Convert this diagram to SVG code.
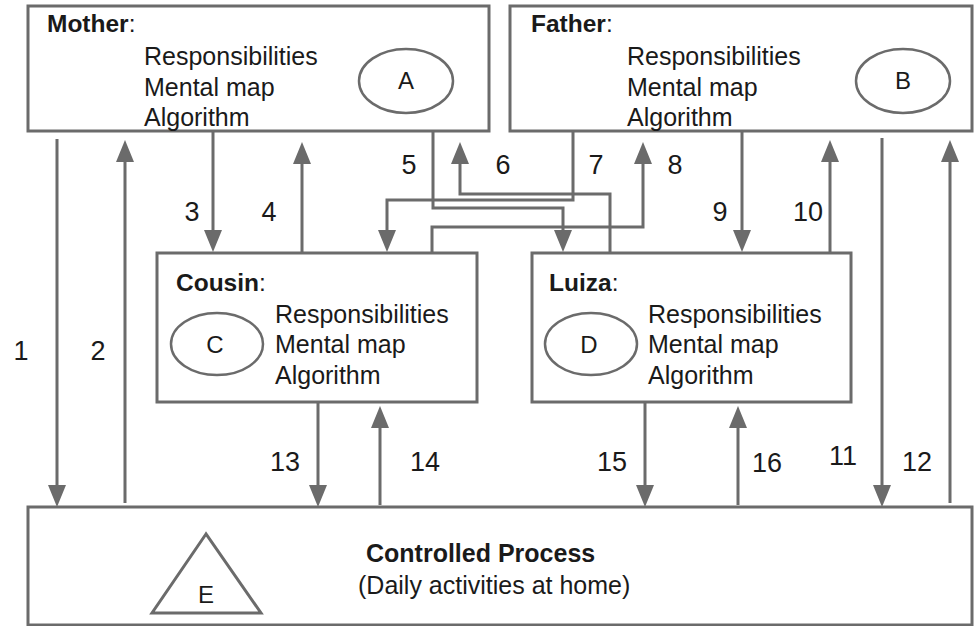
<svg xmlns="http://www.w3.org/2000/svg" width="980" height="626" viewBox="0 0 980 626">
<defs>
<style>
.box{fill:#fff;stroke:#6b6b6b;stroke-width:3}
.ell{fill:none;stroke:#6b6b6b;stroke-width:2.5}
.t{font-family:"Liberation Sans",Arial,sans-serif;fill:#1a1a1a}
.ti{font-size:24.5px;font-weight:bold}
.co{font-weight:normal}
.li{font-size:25px}
.lt{font-size:24px;text-anchor:middle}
.num{font-size:27px;text-anchor:middle}
.c{fill:none;stroke:#6b6b6b;stroke-width:3;marker-end:url(#ah)}
</style>
<marker id="ah" markerUnits="userSpaceOnUse" viewBox="0 0 22 18" markerWidth="22" markerHeight="18" refX="12" refY="9" orient="auto">
<path d="M0,0 L22,9 L0,18 z" fill="#6b6b6b"/>
</marker>
</defs>
<rect width="980" height="626" fill="#fff"/>

<g id="mother">
<rect class="box" x="28" y="6" width="461" height="125"/>
<text class="t ti" x="47" y="32">Mother<tspan class="co">:</tspan></text>
<text class="t li" x="144" y="65">Responsibilities</text>
<text class="t li" x="144" y="96">Mental map</text>
<text class="t li" x="144" y="126">Algorithm</text>
<ellipse class="ell" cx="406" cy="81" rx="47" ry="32"/>
<text class="t lt" x="406" y="89">A</text>
</g>

<g id="father">
<rect class="box" x="510" y="6" width="462" height="125"/>
<text class="t ti" x="531" y="32">Father<tspan class="co">:</tspan></text>
<text class="t li" x="627" y="65">Responsibilities</text>
<text class="t li" x="627" y="96">Mental map</text>
<text class="t li" x="627" y="126">Algorithm</text>
<ellipse class="ell" cx="903" cy="81" rx="47" ry="32"/>
<text class="t lt" x="903" y="89">B</text>
</g>

<g id="cousin">
<rect class="box" x="157" y="253" width="320" height="149"/>
<text class="t ti" x="176" y="291">Cousin<tspan class="co">:</tspan></text>
<text class="t li" x="275" y="323">Responsibilities</text>
<text class="t li" x="275" y="353">Mental map</text>
<text class="t li" x="275" y="384">Algorithm</text>
<ellipse class="ell" cx="217" cy="344" rx="46" ry="31"/>
<text class="t lt" x="215" y="353">C</text>
</g>

<g id="luiza">
<rect class="box" x="532" y="253" width="319" height="149"/>
<text class="t ti" x="549" y="291">Luiza<tspan class="co">:</tspan></text>
<text class="t li" x="648" y="323">Responsibilities</text>
<text class="t li" x="648" y="353">Mental map</text>
<text class="t li" x="648" y="384">Algorithm</text>
<ellipse class="ell" cx="591" cy="344" rx="46" ry="31"/>
<text class="t lt" x="589" y="353">D</text>
</g>

<g id="process">
<rect class="box" x="28" y="507" width="944" height="118"/>
<polygon points="206,534 152,613 261,613" fill="none" stroke="#6b6b6b" stroke-width="3"/>
<text class="t lt" x="206" y="603">E</text>
<text class="t" x="366" y="562" font-size="25" font-weight="bold">Controlled Process</text>
<text class="t" x="358" y="594" font-size="25">(Daily activities at home)</text>
</g>

<g id="connectors">
<path class="c" d="M57,139 V497"/>
<path class="c" d="M125,503 V150"/>
<path class="c" d="M213,131 V242"/>
<path class="c" d="M302,252 V152"/>
<path class="c" d="M433,131 V208 H563 V242"/>
<path class="c" d="M610,252 V194 H460 V152"/>
<path class="c" d="M573,131 V200 H387 V242"/>
<path class="c" d="M432,252 V227 H643 V152"/>
<path class="c" d="M742,131 V242"/>
<path class="c" d="M830,252 V150"/>
<path class="c" d="M882,138 V497"/>
<path class="c" d="M950,503 V150"/>
<path class="c" d="M318,402 V497"/>
<path class="c" d="M380,505 V416"/>
<path class="c" d="M645,402 V497"/>
<path class="c" d="M738,505 V416"/>
</g>

<g id="labels">
<text class="t num" x="21" y="360">1</text>
<text class="t num" x="98" y="360">2</text>
<text class="t num" x="192" y="221">3</text>
<text class="t num" x="269" y="221">4</text>
<text class="t num" x="409" y="174">5</text>
<text class="t num" x="503" y="174">6</text>
<text class="t num" x="596" y="174">7</text>
<text class="t num" x="675" y="174">8</text>
<text class="t num" x="720" y="221">9</text>
<text class="t num" x="808" y="221">10</text>
<text class="t num" x="843" y="465">11</text>
<text class="t num" x="917" y="471">12</text>
<text class="t num" x="285" y="471">13</text>
<text class="t num" x="425" y="471">14</text>
<text class="t num" x="612" y="471">15</text>
<text class="t num" x="767" y="472">16</text>
</g>
</svg>
